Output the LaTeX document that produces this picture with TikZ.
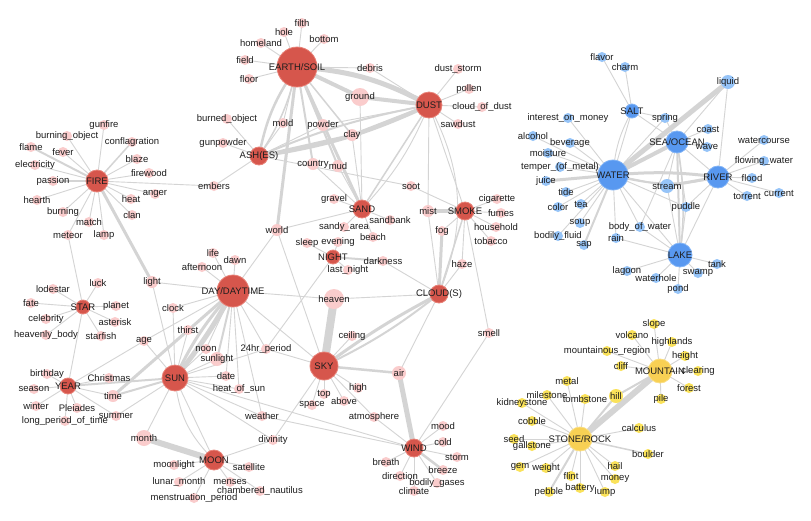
\documentclass[tikz,border=0pt]{standalone}
\usepackage{fontspec}
\setmainfont{Liberation Sans}
\pgfdeclarelayer{bgfill}\pgfdeclarelayer{bg}\pgfdeclarelayer{mid}\pgfsetlayers{bgfill,bg,mid,main}
\definecolor{edgec}{RGB}{212,212,212}
\definecolor{redH}{RGB}{214,86,76}
\definecolor{redB}{RGB}{232,130,120}
\definecolor{pinkS}{RGB}{250,204,204}
\definecolor{blueH}{RGB}{88,152,240}
\definecolor{blueB}{RGB}{130,180,246}
\definecolor{blueS}{RGB}{150,196,248}
\definecolor{yelH}{RGB}{248,208,84}
\definecolor{yelB}{RGB}{250,222,130}
\definecolor{yelS}{RGB}{250,226,90}
\definecolor{txt}{RGB}{30,30,30}
\tikzset{
 hr/.style={circle,inner sep=0pt,fill=redH,draw=redB,line width=0.8pt},
 pk/.style={circle,inner sep=0pt,fill=pinkS},
 bh/.style={circle,inner sep=0pt,fill=blueH,draw=blueB,line width=0.8pt},
 bs/.style={circle,inner sep=0pt,fill=blueS},
 yh/.style={circle,inner sep=0pt,fill=yelH,draw=yelB,line width=0.8pt},
 ys/.style={circle,inner sep=0pt,fill=yelS},
 lbl/.style={inner sep=0pt,text=txt,font=\fontsize{9.5}{10}\selectfont},
 e/.style={draw=edgec,line width=0.9pt}
}
\newcommand\mk[6]{\begin{pgfonlayer}{mid}\node[#5,minimum size=#4*2pt] (#1) at (#2,#3) {};\end{pgfonlayer}\node[lbl] (#1-t) at (#2,#3) {#6};}
\begin{document}
\begin{tikzpicture}[x=1pt,y=-1pt]
\begin{pgfonlayer}{bgfill}
\fill[white] (0,0) rectangle (811,520);
\end{pgfonlayer}
\useasboundingbox (0,0) rectangle (811,520);
% red hubs
\mk{earth}{297}{67}{20}{hr}{EARTH/SOIL}
\mk{dust}{429}{105}{13}{hr}{DUST}
\mk{fire}{97}{181}{11}{hr}{FIRE}
\mk{ash}{259}{156}{9}{hr}{ASH(ES)}
\mk{sand}{362}{209}{9}{hr}{SAND}
\mk{smoke}{465}{211}{9}{hr}{SMOKE}
\mk{night}{333}{257}{7}{hr}{NIGHT}
\mk{day}{233}{291}{16}{hr}{DAY/DAYTIME}
\mk{cloud}{439}{294}{9}{hr}{CLOUD(S)}
\mk{star}{83}{307}{7}{hr}{STAR}
\mk{sun}{175}{378}{13}{hr}{SUN}
\mk{sky}{324}{366}{14}{hr}{SKY}
\mk{year}{68}{386}{8}{hr}{YEAR}
\mk{moon}{214}{460}{10}{hr}{MOON}
\mk{wind}{414}{448}{9}{hr}{WIND}
% red small
\mk{filth}{302}{23}{5}{pk}{filth}
\mk{hole}{284}{32}{5}{pk}{hole}
\mk{homeland}{261}{43}{5}{pk}{homeland}
\mk{bottom}{324}{39}{5}{pk}{bottom}
\mk{field}{245}{60}{5}{pk}{field}
\mk{floor}{249}{79}{5}{pk}{floor}
\mk{debris}{370}{68}{5}{pk}{debris}
\mk{duststorm}{458}{69}{5}{pk}{dust\_storm}
\mk{pollen}{469}{89}{5}{pk}{pollen}
\mk{cod}{482}{107}{5}{pk}{cloud\_of\_dust}
\mk{sawdust}{458}{124}{5}{pk}{sawdust}
\mk{ground}{360}{97}{9}{pk}{ground}
\mk{mold}{283}{123}{5}{pk}{mold}
\mk{powder}{323}{125}{6}{pk}{powder}
\mk{clay}{352}{135}{6}{pk}{clay}
\mk{burned}{227}{119}{5}{pk}{burned\_object}
\mk{gunpowder}{223}{143}{5}{pk}{gunpowder}
\mk{embers}{214}{186}{5}{pk}{embers}
\mk{country}{313}{164}{6}{pk}{country}
\mk{mud}{338}{166}{6}{pk}{mud}
\mk{soot}{411}{186}{5}{pk}{soot}
\mk{gravel}{334}{199}{5}{pk}{gravel}
\mk{mist}{428}{211}{6}{pk}{mist}
\mk{cigarette}{497}{199}{5}{pk}{cigarette}
\mk{fumes}{501}{213}{5}{pk}{fumes}
\mk{household}{496}{227}{5}{pk}{household}
\mk{tobacco}{491}{241}{5}{pk}{tobacco}
\mk{sandbank}{390}{220}{5}{pk}{sandbank}
\mk{world}{277}{230}{6}{pk}{world}
\mk{sandy}{344}{227}{5}{pk}{sandy\_area}
\mk{beach}{373}{237}{5}{pk}{beach}
\mk{fog}{442}{231}{5}{pk}{fog}
\mk{sleep}{307}{243}{5}{pk}{sleep}
\mk{evening}{338}{242}{5}{pk}{evening}
\mk{darkness}{383}{261}{5}{pk}{darkness}
\mk{lastnight}{348}{270}{5}{pk}{last\_night}
\mk{haze}{462}{264}{5}{pk}{haze}
\mk{heaven}{334}{299}{10}{pk}{heaven}
\mk{ceiling}{352}{336}{5}{pk}{ceiling}
\mk{smell}{489}{333}{5}{pk}{smell}
\mk{gunfire}{104}{125}{5}{pk}{gunfire}
\mk{burningobj}{67}{136}{5}{pk}{burning\_object}
\mk{flame}{31}{147}{5}{pk}{flame}
\mk{fever}{63}{152}{5}{pk}{fever}
\mk{confl}{132}{142}{5}{pk}{conflagration}
\mk{electricity}{35}{165}{5}{pk}{electricity}
\mk{blaze}{137}{159}{5}{pk}{blaze}
\mk{firewood}{149}{173}{5}{pk}{firewood}
\mk{passion}{53}{181}{5}{pk}{passion}
\mk{anger}{155}{194}{5}{pk}{anger}
\mk{heat}{131}{199}{5}{pk}{heat}
\mk{hearth}{37}{200}{5}{pk}{hearth}
\mk{clan}{132}{215}{5}{pk}{clan}
\mk{burning}{63}{212}{5}{pk}{burning}
\mk{match}{89}{222}{5}{pk}{match}
\mk{meteor}{68}{235}{5}{pk}{meteor}
\mk{lamp}{104}{235}{5}{pk}{lamp}
\mk{life}{213}{253}{5}{pk}{life}
\mk{dawn}{235}{260}{5}{pk}{dawn}
\mk{afternoon}{202}{267}{5}{pk}{afternoon}
\mk{light}{152}{282}{6}{pk}{light}
\mk{luck}{98}{283}{5}{pk}{luck}
\mk{lodestar}{53}{289}{5}{pk}{lodestar}
\mk{fate}{31}{303}{5}{pk}{fate}
\mk{planet}{116}{306}{5}{pk}{planet}
\mk{clock}{173}{308}{5}{pk}{clock}
\mk{celebrity}{46}{319}{5}{pk}{celebrity}
\mk{asterisk}{115}{322}{5}{pk}{asterisk}
\mk{thirst}{188}{330}{5}{pk}{thirst}
\mk{hbody}{46}{335}{5}{pk}{heavenly\_body}
\mk{starfish}{101}{336}{5}{pk}{starfish}
\mk{age}{144}{341}{5}{pk}{age}
\mk{noon}{206}{349}{5}{pk}{noon}
\mk{hr24}{266}{349}{5}{pk}{24hr\_period}
\mk{sunlight}{217}{359}{7}{pk}{sunlight}
\mk{birthday}{47}{374}{5}{pk}{birthday}
\mk{christmas}{109}{378}{5}{pk}{Christmas}
\mk{date}{226}{376}{5}{pk}{date}
\mk{season}{34}{389}{5}{pk}{season}
\mk{time}{113}{396}{6}{pk}{time}
\mk{hos}{239}{389}{5}{pk}{heat\_of\_sun}
\mk{winter}{36}{406}{5}{pk}{winter}
\mk{pleiades}{77}{408}{5}{pk}{Pleiades}
\mk{summer}{116}{416}{5}{pk}{summer}
\mk{lpt}{65}{421}{5}{pk}{long\_period\_of\_time}
\mk{top}{324}{394}{5}{pk}{top}
\mk{above}{344}{401}{5}{pk}{above}
\mk{space}{312}{405}{5}{pk}{space}
\mk{weather}{262}{416}{5}{pk}{weather}
\mk{month}{144}{438}{8}{pk}{month}
\mk{divinity}{273}{440}{5}{pk}{divinity}
\mk{moonlight}{174}{465}{5}{pk}{moonlight}
\mk{satellite}{249}{467}{5}{pk}{satellite}
\mk{lunar}{179}{482}{5}{pk}{lunar\_month}
\mk{menses}{230}{482}{5}{pk}{menses}
\mk{nautilus}{260}{491}{5}{pk}{chambered\_nautilus}
\mk{menstr}{194}{498}{5}{pk}{menstruation\_period}
\mk{air}{399}{373}{7}{pk}{air}
\mk{high}{358}{388}{5}{pk}{high}
\mk{atmos}{374}{417}{5}{pk}{atmosphere}
\mk{mood}{443}{426}{5}{pk}{mood}
\mk{cold}{443}{442}{5}{pk}{cold}
\mk{storm}{457}{457}{5}{pk}{storm}
\mk{breath}{386}{462}{5}{pk}{breath}
\mk{breeze}{443}{470}{5}{pk}{breeze}
\mk{direction}{400}{476}{5}{pk}{direction}
\mk{bgases}{437}{483}{5}{pk}{bodily\_gases}
\mk{climate}{414}{491}{5}{pk}{climate}
% blue
\mk{water}{613}{175}{15}{bh}{WATER}
\mk{sea}{677}{142}{11}{bh}{SEA/OCEAN}
\mk{river}{718}{177}{11}{bh}{RIVER}
\mk{lake}{680}{255}{12}{bh}{LAKE}
\mk{salt}{632}{111}{7}{bh}{SALT}
\mk{flavor}{602}{57}{5}{bs}{flavor}
\mk{charm}{625}{67}{5}{bs}{charm}
\mk{liquid}{728}{82}{7}{bs}{liquid}
\mk{spring}{665}{118}{5}{bs}{spring}
\mk{interest}{568}{118}{5}{bs}{interest\_on\_money}
\mk{coast}{708}{129}{5}{bs}{coast}
\mk{alcohol}{533}{136}{5}{bs}{alcohol}
\mk{beverage}{570}{143}{5}{bs}{beverage}
\mk{watercourse}{764}{140}{5}{bs}{watercourse}
\mk{moisture}{548}{153}{5}{bs}{moisture}
\mk{wave}{707}{147}{5}{bs}{wave}
\mk{flowing}{764}{161}{5}{bs}{flowing\_water}
\mk{temper}{560}{167}{5}{bs}{temper\_(of\_metal)}
\mk{flood}{752}{178}{5}{bs}{flood}
\mk{juice}{546}{181}{5}{bs}{juice}
\mk{stream}{667}{186}{7}{bs}{stream}
\mk{tide}{566}{192}{5}{bs}{tide}
\mk{torrent}{747}{196}{5}{bs}{torrent}
\mk{current}{779}{193}{5}{bs}{current}
\mk{color}{558}{207}{5}{bs}{color}
\mk{tea}{581}{204}{5}{bs}{tea}
\mk{puddle}{686}{207}{5}{bs}{puddle}
\mk{soup}{580}{223}{5}{bs}{soup}
\mk{bow}{640}{227}{5}{bs}{body\_of\_water}
\mk{bfluid}{558}{236}{5}{bs}{bodily\_fluid}
\mk{rain}{616}{238}{5}{bs}{rain}
\mk{sap}{584}{245}{5}{bs}{sap}
\mk{tank}{717}{264}{5}{bs}{tank}
\mk{lagoon}{627}{271}{5}{bs}{lagoon}
\mk{swamp}{698}{273}{5}{bs}{swamp}
\mk{waterhole}{656}{278}{5}{bs}{waterhole}
\mk{pond}{678}{289}{5}{bs}{pond}
% yellow
\mk{mountain}{660}{371}{12}{yh}{MOUNTAIN}
\mk{stone}{580}{439}{12}{yh}{STONE/ROCK}
\mk{slope}{654}{324}{5}{ys}{slope}
\mk{volcano}{632}{335}{5}{ys}{volcano}
\mk{highlands}{672}{342}{5}{ys}{highlands}
\mk{mregion}{607}{351}{5}{ys}{mountainous\_region}
\mk{height}{685}{356}{5}{ys}{height}
\mk{cliff}{621}{366}{5}{ys}{cliff}
\mk{clearing}{698}{371}{5}{ys}{clearing}
\mk{metal}{567}{381}{5}{ys}{metal}
\mk{forest}{689}{388}{5}{ys}{forest}
\mk{hill}{616}{396}{7}{ys}{hill}
\mk{milestone}{547}{395}{5}{ys}{milestone}
\mk{tombstone}{585}{399}{5}{ys}{tombstone}
\mk{pile}{661}{399}{5}{ys}{pile}
\mk{kidney}{522}{403}{5}{ys}{kidneystone}
\mk{cobble}{532}{421}{5}{ys}{cobble}
\mk{calculus}{639}{428}{5}{ys}{calculus}
\mk{seed}{514}{439}{5}{ys}{seed}
\mk{gallstone}{532}{446}{5}{ys}{gallstone}
\mk{boulder}{648}{454}{5}{ys}{boulder}
\mk{gem}{520}{467}{5}{ys}{gem}
\mk{weight}{546}{468}{5}{ys}{weight}
\mk{hail}{615}{466}{5}{ys}{hail}
\mk{flint}{571}{476}{5}{ys}{flint}
\mk{money}{615}{479}{5}{ys}{money}
\mk{pebble}{549}{492}{5}{ys}{pebble}
\mk{battery}{580}{488}{5}{ys}{battery}
\mk{lump}{605}{492}{5}{ys}{lump}
% edges
\begin{pgfonlayer}{bg}
\foreach \a/\b in {earth/filth,earth/hole,earth/homeland,earth/bottom,earth/field,earth/floor,earth/debris,debris/dust,earth/mold,mold/ash,earth/powder,ash/burned,ash/gunpowder,ash/embers,fire/embers,powder/ash,dust/powder,clay/sand,dust/duststorm,dust/pollen,dust/cod,dust/sawdust,dust/mist,dust/smoke,ground/sand,ash/soot,soot/smoke,country/sand,mud/sand,sand/gravel,sand/sandbank,sand/sandy,sand/beach,world/sand,smoke/cigarette,smoke/fumes,smoke/household,smoke/tobacco,smoke/fog,smoke/haze,smoke/smell,cloud/mist,cloud/haze,cloud/darkness,cloud/heaven,cloud/air,night/sleep,night/evening,night/lastnight,night/hr24,day/life,day/dawn,day/afternoon,day/light,day/clock,day/thirst,day/noon,day/date,day/hos,day/hr24,day/weather,day/heaven,day/sky,day/world,day/age,sun/light,sun/thirst,sun/age,sun/noon,sun/sunlight,sun/date,sun/hos,sun/summer,sun/month,sun/weather,sun/divinity,sun/wind,sun/hr24,sun/clock,fire/gunfire,fire/burningobj,fire/fever,fire/electricity,fire/blaze,fire/firewood,fire/anger,fire/heat,fire/hearth,fire/clan,fire/burning,fire/match,fire/meteor,fire/lamp,star/luck,star/lodestar,star/fate,star/planet,star/celebrity,star/asterisk,star/hbody,star/starfish,star/meteor,star/year,year/birthday,year/season,year/winter,year/pleiades,year/lpt,year/time,year/christmas,year/summer,year/age,sky/ceiling,sky/high,sky/top,sky/above,sky/space,sky/atmos,sky/divinity,sky/world,sky/hr24,wind/mood,wind/cold,wind/storm,wind/breath,wind/direction,wind/bgases,wind/climate,wind/smell,wind/atmos,weather/wind,moon/moonlight,moon/satellite,moon/lunar,moon/menses,moon/nautilus,moon/menstr,moon/sun,moon/divinity,water/interest,water/alcohol,water/beverage,water/moisture,water/temper,water/tide,water/color,water/tea,water/soup,water/bfluid,water/rain,water/bow,water/lake,water/salt,water/puddle,salt/flavor,salt/charm,salt/sea,salt/spring,sea/spring,sea/coast,sea/wave,sea/liquid,sea/stream,sea/puddle,river/watercourse,river/flowing,river/flood,river/torrent,river/current,river/lake,river/liquid,river/puddle,river/sea,lake/tank,lake/swamp,lake/waterhole,lake/lagoon,lake/pond,lake/rain,lake/bow,lake/puddle,lake/stream,water/spring,sea/bow,mountain/slope,mountain/volcano,mountain/highlands,mountain/mregion,mountain/height,mountain/cliff,mountain/clearing,mountain/forest,mountain/pile,stone/metal,stone/milestone,stone/tombstone,stone/kidney,stone/cobble,stone/calculus,stone/seed,stone/gallstone,stone/gem,stone/weight,stone/hail,stone/flint,stone/battery,stone/lump,stone/money}
 \draw[e] (\a.center) -- (\b.center);
\foreach \a/\b/\w in {earth/ground/4,ground/dust/4,earth/sand/3,earth/mud/2,earth/country/2,earth/world/3,earth/clay/1.5,dust/clay/2.5,clay/ash/2.5,dust/sand/1.5,smoke/mist/3.5,smoke/cloud/1.5,cloud/fog/3,night/darkness/2,day/sunlight/2,day/time/3,sun/time/2,sun/year/2,fire/flame/2,fire/confl/1.5,fire/passion/1.5,fire/light/3,sky/heaven/8,sky/air/2.5,air/wind/5,wind/breeze/2.5,moon/month/6,water/juice/3,water/sap/2,water/stream/1.5,water/sea/4,water/liquid/5,river/stream/3,sea/lake/2,mountain/hill/2,mountain/stone/6,stone/boulder/1.5,stone/pebble/2,stone/hill/2}
 \draw[e,line width=\w pt] (\a.center) -- (\b.center);
\draw[e,line width=5pt] (earth.center) to[bend left=12] (dust.center);
\draw[e,line width=4pt] (dust.center) to[bend left=8] (ash.center);
\draw[e,line width=2pt] (dust.center) to[bend right=6] (ash.center);
\draw[e,line width=2.5pt] (earth.center) to[bend right=12] (ash.center);
\draw[e,line width=1.5pt] (earth.center) to[bend left=10] (ash.center);
\draw[e] (dust.center) to[bend left=25] (cloud.center);
\draw[e] (dust.center) to[bend left=10] (sand.center);
\draw[e,line width=3pt] (sky.center) to[bend left=4] (cloud.center);
\draw[e,line width=2pt] (sky.center) to[bend right=6] (cloud.center);
\draw[e,line width=5pt] (day.center) to[bend left=5] (sun.center);
\draw[e,line width=3pt] (day.center) to[bend right=8] (sun.center);
\draw[e] (sun.center) to[bend right=20] (moon.center);
\draw[e,line width=3pt] (water.center) to[bend left=6] (river.center);
\draw[e,line width=2pt] (water.center) to[bend right=14] (river.center);
\draw[e,line width=1.5pt] (sea.center) to[bend left=8] (lake.center);
\draw[e] (water.center) to[bend left=12] (salt.center);
\end{pgfonlayer}
\end{tikzpicture}
\end{document}
